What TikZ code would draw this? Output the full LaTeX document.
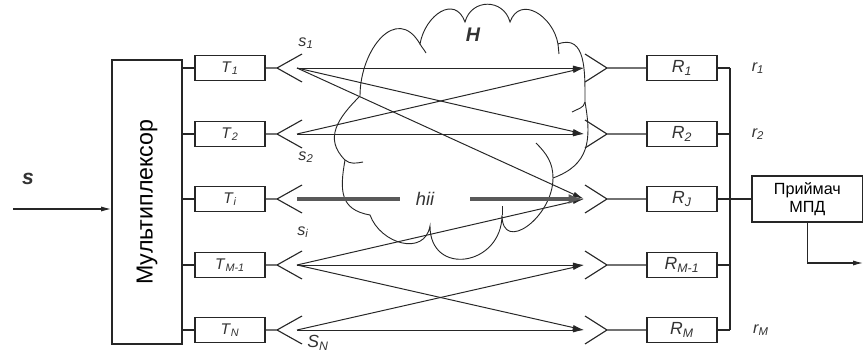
\documentclass[tikz,border=0pt]{standalone}
\usepackage{fontspec}
\setmainfont{Liberation Sans}
\usetikzlibrary{arrows.meta,positioning}
\newcommand{\idx}[2]{\textit{#1}\textsubscript{\itshape #2}}
\tikzset{
  blk/.style={draw=black!85, line width=1.3pt, minimum width=1.75cm, minimum height=0.625cm,
    inner sep=0pt, text=black!80, font=\fontsize{11}{13}\selectfont},
  wire/.style={draw=black!85, line width=0.8pt},
  ray/.style={draw=black!85, line width=0.7pt, -{Latex[length=8pt,width=3.6pt]}},
  mainray/.style={draw=black!65, line width=2.4pt},
  cloudline/.style={draw=black!85, line width=0.65pt},
  lab/.style={inner sep=0pt, text=black!80, font=\fontsize{11.5}{13}\selectfont\itshape},
}

\begin{document}
\begin{tikzpicture}[x=0.025cm, y=0.025cm]
\useasboundingbox (0,0) rectangle (863,356);

\draw[cloudline] (360,260)
  to[out=90,in=120,looseness=1.5] (420,312)
  to[out=80,in=110,looseness=1.5] (465,334)
  to[out=75,in=105,looseness=1.4] (510,334)
  to[out=70,in=100,looseness=1.4] (558,312)
  to[out=20,in=90,looseness=1.2] (585,254)
  to[out=-80,in=20,looseness=1.2] (553,178)
  to[out=-90,in=-90,looseness=1.6] (502,141)
  to[out=-90,in=-90,looseness=1.8] (430,130)
  to[out=-100,in=-70,looseness=1.3] (370,141)
  to[out=170,in=-100,looseness=1.3] (345,196)
  to[out=135,in=-135,looseness=1.2] (360,260);
\draw[cloudline] (420,312) to[out=-60,in=120] (426,303);
\draw[cloudline] (558,312) -- (559,302);
\draw[cloudline] (585,254) to[out=-100,in=30] (572,244);
\draw[cloudline] (553,178) to[out=90,in=-45] (536,213);
\draw[cloudline] (345,196) to[out=-40,in=190] (363,194);
\draw[cloudline] (502,141) -- (502,150);
\node[lab, font=\fontsize{14}{16}\selectfont\bfseries\itshape] (H) at (473,321) {H};

\node[blk, minimum height=7.1cm] (mux) at (147,154) {};
\node[rotate=90, font=\fontsize{16.5}{18}\selectfont] (muxtext) at (mux) {Мультиплексор};
\coordinate (in) at (13,147);
\node[lab, font=\fontsize{15}{16}\selectfont\bfseries\itshape] (s) at (28,177) {s};
\draw[wire, -{Latex[length=7pt,width=3.6pt]}] (in) -- (in -| mux.west);

\coordinate (bus) at (730,0);
\foreach \n/\y/\t/\r in {1/288/1/1, 2/222/2/2, i/157/i/J, m/91/M-1/M-1, n/26/N/M}{
  \node[blk] (T\n) at (230,\y) {\idx{T}{\t}};
  \node[blk, font=\fontsize{12.5}{14}\selectfont] (R\n) at (682,\y) {\idx{R}{\r}};
  \coordinate (a\n) at (277,\y);
  \coordinate (s\n) at (297,\y);
  \coordinate (e\n) at (584,\y);
  \coordinate (b\n) at (607,\y);
  \draw[wire] (T\n.west -| mux.east) -- (T\n.west);
  \draw[wire] (T\n.east) -- (a\n) -- ++(25,14) (a\n) -- ++(25,-14);
  \draw[wire] (b\n) -- ++(-22,14) (b\n) -- ++(-22,-14) (b\n) -- (R\n.west);
  \draw[wire] (R\n.east) -- (R\n.east -| bus);
}
\draw[wire] (R1.east -| bus) -- (Rn.east -| bus);

\foreach \a/\b in {1/1, 1/2, 1/i, 2/1, 2/2, m/i, m/m, m/n, n/m, n/n}
  \draw[ray] (s\a) -- (e\b);

\node[lab, font=\fontsize{13}{14}\selectfont\itshape] (hii) at (425,157) {hii};
\draw[mainray] (si) -- ([xshift=-0.4cm]hii.west);
\draw[mainray, -{Latex[length=11pt,width=7pt]}] ([xshift=0.9cm]hii.east) -- (ei);

\node[lab] (ls1) at (306,313) {\idx{s}{1}};
\node[lab] (ls2) at (306,199) {\idx{s}{2}};
\node[lab] (lsi) at (303,124) {\idx{s}{i}};
\node[lab, font=\fontsize{12.5}{14}\selectfont\itshape] (lsn) at (318,13) {\idx{S}{N}};
\node[lab] (r1) at (758,288) {\idx{r}{1}};
\node[lab] (r2) at (758,222) {\idx{r}{2}};
\node[lab] (rm) at (761,26) {\idx{r}{M}};

\node[blk, right=0.825cm of Ri, minimum width=2.775cm, minimum height=1.15cm, align=center,
  font=\fontsize{11.5}{12.5}\selectfont, text=black] (rx) {Приймач\\МПД};
\draw[wire] (Ri.east) -- (rx.west);
\coordinate (out) at (863,93);
\draw[wire, -{Latex[length=7pt,width=3.6pt]}] (rx.south) |- (out);
\end{tikzpicture}
\end{document}
